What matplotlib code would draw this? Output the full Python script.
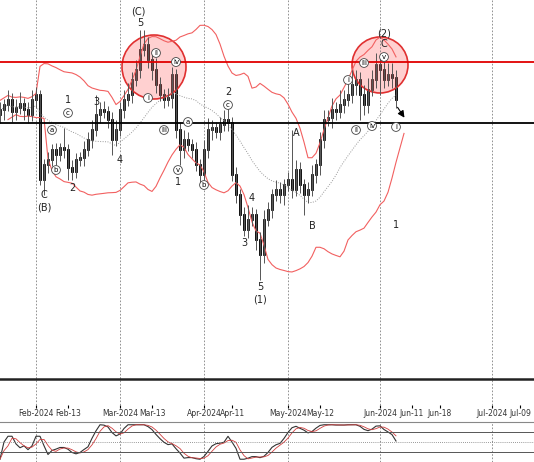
import numpy as np
import pandas as pd
import matplotlib
matplotlib.use('Agg')
import matplotlib.pyplot as plt
from matplotlib.patches import Ellipse

# closes (price units = pixels up from bottom)
closes = [290, 295, 300, 288, 292, 296, 290, 285, 300, 305,
          220, 235, 240, 250, 245, 252, 250, 232, 228, 240,
          242, 250, 260, 270, 285, 290, 288, 280, 260, 270,
          290, 300, 305, 320, 330, 350, 355, 340, 330, 315,
          305, 300, 302, 325, 270, 250, 260, 255, 250, 235,
          225, 250, 270, 272, 268, 275, 280, 277, 225, 205,
          185, 170, 180, 185, 160, 145, 180, 190, 205, 210,
          205, 215, 220, 210, 230, 215, 205, 210, 225, 235,
          260, 280, 282, 290, 288, 295, 300, 305, 315, 320,
          305, 295, 310, 320, 335, 330, 320, 325, 322, 300]
upper_wick = [8, 6, 10, 7, 9, 12, 6, 8, 10, 8,
              5, 6, 8, 6, 7, 5, 20, 6, 8, 7,
              6, 9, 8, 10, 20, 8, 9, 6, 8, 10,
              8, 10, 12, 8, 10, 20, 15, 8, 10, 12,
              8, 6, 10, 8, 6, 8, 10, 8, 6, 8,
              6, 10, 12, 8, 6, 8, 10, 15, 6, 8,
              6, 8, 15, 8, 6, 8, 10, 8, 6, 10,
              8, 6, 8, 50, 10, 8, 6, 8, 10, 6,
              8, 10, 8, 12, 8, 15, 10, 12, 15, 10,
              8, 10, 12, 10, 12, 8, 15, 12, 12, 8]
lower_wick = [8, 10, 6, 10, 8, 6, 10, 8, 6, 8,
              5, 15, 8, 6, 10, 6, 8, 12, 8, 6,
              6, 8, 6, 8, 6, 8, 6, 8, 15, 6,
              6, 8, 6, 8, 6, 8, 6, 8, 10, 8,
              6, 8, 6, 10, 8, 15, 8, 6, 8, 6,
              8, 6, 8, 10, 6, 8, 6, 8, 6, 8,
              10, 6, 8, 6, 10, 25, 8, 6, 8, 6,
              8, 10, 6, 8, 6, 8, 20, 8, 6, 8,
              10, 8, 6, 10, 8, 6, 8, 6, 8, 10,
              25, 10, 8, 6, 8, 25, 8, 6, 10, 8]
first_open = 285

tick_pos = [9, 17, 30, 38, 51, 58, 72, 80, 95, 103, 110, 123, 130]
tick_labels = ['Feb-2024', 'Feb-13', 'Mar-2024', 'Mar-13', 'Apr-2024', 'Apr-11',
               'May-2024', 'May-12', 'Jun-2024', 'Jun-11', 'Jun-18', 'Jul-2024', 'Jul-09']
month_pos = [9, 30, 51, 72, 95, 123]

red_level = 338
black_level = 277
bottom_level = 21

# wave labels: (index, price, text, circled)
labels = [(11, 205, 'C', 0), (11, 192, '(B)', 0), (13, 270, 'a', 1), (14, 230, 'b', 1),
          (17, 300, '1', 0), (17, 287, 'c', 1), (18, 212, '2', 0), (24, 298, '3', 0),
          (30, 240, '4', 0), (35, 377, '5', 0), (34.5, 388, '(C)', 0),
          (37, 302, 'i', 1), (39, 347, 'ii', 1), (41, 270, 'iii', 1), (44, 338, 'iv', 1),
          (47, 278, 'a', 1), (44.5, 230, 'v', 1), (44.5, 218, '1', 0), (51, 215, 'b', 1),
          (57, 308, '2', 0), (57, 295, 'c', 1), (63, 202, '4', 0), (61, 157, '3', 0),
          (65, 113, '5', 0), (65, 100, '(1)', 0), (74, 267, 'A', 0), (78, 174, 'B', 0),
          (87, 320, 'i', 1), (89, 270, 'ii', 1), (91, 337, 'iii', 1), (93, 274, 'iv', 1),
          (96, 343, 'v', 1), (96, 356, 'C', 0), (96, 367, '(2)', 0), (99, 273, 'i', 1),
          (99, 175, '1', 0)]

c = np.array(closes, dtype=float)
o = np.concatenate([[first_open], c[:-1]])
hi = np.maximum(o, c) + np.array(upper_wick)
lo = np.minimum(o, c) - np.array(lower_wick)
x = np.arange(len(c))

s = pd.Series(c)
mid = s.rolling(20, min_periods=1).mean()
sd = s.rolling(20, min_periods=8).std().bfill()
upper = mid + 2 * sd
lower = mid - 2 * sd

fig = plt.figure(figsize=(5.34, 4.62), dpi=100)
ax = fig.add_axes([0, 57 / 462, 1, 405 / 462])
ax2 = fig.add_axes([0, 0, 1, 40 / 462])

for xm in month_pos:
    ax.axvline(xm, color='gray', lw=0.6, ls=(0, (2, 2)))
    ax2.axvline(xm, color='gray', lw=0.6, ls=(0, (2, 2)))

ax.plot(x, upper, color='#f26060', lw=0.8)
ax.plot(x + 2, lower, color='#f26060', lw=0.8)
ax.plot(x, mid, color='#999999', lw=0.7, ls=(0, (1, 1.5)))

for i in x:
    ax.vlines(i, lo[i], hi[i], color='#555555', lw=0.7)
    up = c[i] >= o[i]
    ax.bar(i, abs(c[i] - o[i]) + 1, bottom=min(o[i], c[i]), width=0.7,
           color='white' if up else 'black', edgecolor='black', lw=0.6)

ax.axhline(red_level, color='#e00000', lw=1.3)
ax.axhline(black_level, color='black', lw=1.3)
ax.axhline(bottom_level, color='#222222', lw=1.8)

ax.add_patch(Ellipse((38.5, 333), 16, 64, facecolor=(1, 0.4, 0.4, 0.3),
                     edgecolor='#e03030', lw=1.2))
ax.add_patch(Ellipse((95, 335), 14, 56, facecolor=(1, 0.4, 0.4, 0.3),
                     edgecolor='#e03030', lw=1.2))
ax.annotate('', xy=(101.5, 280), xytext=(99, 295),
            arrowprops=dict(arrowstyle='-|>', color='black', lw=0.8))

for lx, ly, txt, circ in labels:
    if circ:
        ax.text(lx, ly, txt, fontsize=5, ha='center', va='center',
                bbox=dict(boxstyle='circle,pad=0.2', fc='white', ec='#444444', lw=0.6))
    else:
        ax.text(lx, ly, txt, fontsize=7, ha='center', va='center', color='#222222')

ax.set_xlim(0, 133.5)
ax.set_ylim(-5, 400)
ax.set_xticks(tick_pos)
ax.set_xticklabels(tick_labels, fontsize=5.5, color='#333333')
ax.tick_params(axis='x', length=2, pad=1)
ax.set_yticks([])
for sp in ax.spines.values():
    sp.set_visible(False)

# stochastic oscillator
ll = s.rolling(14, min_periods=1).min()
hh = s.rolling(14, min_periods=1).max()
k = (100 * (s - ll) / (hh - ll).replace(0, 1)).rolling(3, min_periods=1).mean()
d = k.rolling(3, min_periods=1).mean()
ax2.plot(x, k, color='#333333', lw=0.8)
ax2.plot(x, d, color='#d04040', lw=0.6)
ax2.axhline(80, color='#555555', lw=0.7)
ax2.axhline(20, color='#555555', lw=0.7)
ax2.axhline(50, color='#777777', lw=0.6, ls=(0, (1, 1.5)))
ax2.set_xlim(0, 133.5)
ax2.set_ylim(-8, 108)
ax2.set_xticks([])
ax2.set_yticks([])
for sp in ax2.spines.values():
    sp.set_visible(False)
ax2.spines['top'].set_visible(True)
ax2.spines['top'].set_color('#888888')

fig.savefig('out.png', dpi=100)
